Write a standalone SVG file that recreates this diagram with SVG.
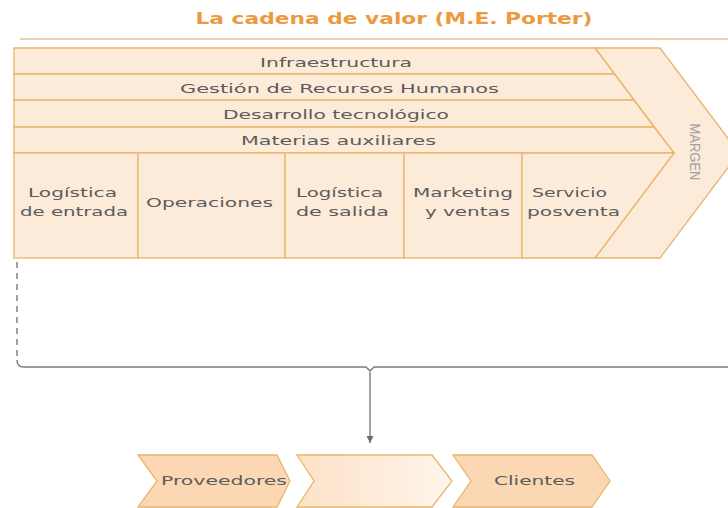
<svg xmlns="http://www.w3.org/2000/svg" width="728" height="508" viewBox="0 0 728 508">
<style>
.box{fill:#fdebd9;stroke:#e8b56c;stroke-width:1.3;stroke-linejoin:miter}
.chev{fill:#fbd8b3;stroke:#e8b56c;stroke-width:1.3}
.lbl{font-family:"DejaVu Sans",Verdana,sans-serif;font-size:12px;fill:#5c5c5c}
.title{font-family:"DejaVu Sans",Verdana,sans-serif;font-size:15px;font-weight:bold;fill:#eb9a3e}
.margen{font-family:"Liberation Sans",Arial,sans-serif;font-size:14px;fill:#a0a0a0}
.conn{fill:none;stroke:#7a7a7a;stroke-width:1.4}
</style>
<defs>
<marker id="ah" markerWidth="10" markerHeight="8" refX="7" refY="3.5" orient="auto" markerUnits="userSpaceOnUse">
<path d="M0,0 L7,3.5 L0,7 Z" fill="#6e6e6e"/>
</marker>
<linearGradient id="mid" x1="0" y1="0" x2="1" y2="0">
<stop offset="0" stop-color="#fde2c8"/>
<stop offset="1" stop-color="#fff4eb"/>
</linearGradient>
</defs>
<rect width="728" height="508" fill="#ffffff"/>
<g id="title">
<text class="title" x="394" y="24" text-anchor="middle" textLength="397" lengthAdjust="spacingAndGlyphs">La cadena de valor (M.E. Porter)</text>
<line x1="20" y1="39" x2="728" y2="39" stroke="#e9c28f" stroke-width="1.5"/>
</g>
<g id="margen">
<polygon class="box" points="595,48 660,48 739,153 660,258 595,258 674,153"/>
<text class="margen" transform="translate(690,152) rotate(90)" text-anchor="middle" textLength="57" lengthAdjust="spacingAndGlyphs">MARGEN</text>
</g>
<g id="infraestructura">
<polygon class="box" points="14,48 595,48 614.6,74 14,74"/>
<text class="lbl" x="260" y="67" textLength="152" lengthAdjust="spacingAndGlyphs">Infraestructura</text>
</g>
<g id="rrhh">
<polygon class="box" points="14,74 614.6,74 634,100 14,100"/>
<text class="lbl" x="180" y="93" textLength="319" lengthAdjust="spacingAndGlyphs">Gestión de Recursos Humanos</text>
</g>
<g id="desarrollo">
<polygon class="box" points="14,100 634,100 654,127 14,127"/>
<text class="lbl" x="223" y="119" textLength="226" lengthAdjust="spacingAndGlyphs">Desarrollo tecnológico</text>
</g>
<g id="materias">
<polygon class="box" points="14,127 654,127 674,153 14,153"/>
<text class="lbl" x="241" y="145" textLength="195" lengthAdjust="spacingAndGlyphs">Materias auxiliares</text>
</g>
<g id="log-entrada">
<rect class="box" x="14" y="153" width="124" height="105"/>
<text class="lbl" x="28" y="197" textLength="89" lengthAdjust="spacingAndGlyphs">Logística</text>
<text class="lbl" x="20" y="216" textLength="108" lengthAdjust="spacingAndGlyphs">de entrada</text>
</g>
<g id="operaciones">
<rect class="box" x="138" y="153" width="147" height="105"/>
<text class="lbl" x="146" y="207" textLength="127" lengthAdjust="spacingAndGlyphs">Operaciones</text>
</g>
<g id="log-salida">
<rect class="box" x="285" y="153" width="119" height="105"/>
<text class="lbl" x="296" y="197" textLength="87" lengthAdjust="spacingAndGlyphs">Logística</text>
<text class="lbl" x="296" y="216" textLength="93" lengthAdjust="spacingAndGlyphs">de salida</text>
</g>
<g id="marketing">
<rect class="box" x="404" y="153" width="118" height="105"/>
<text class="lbl" x="413" y="197" textLength="100" lengthAdjust="spacingAndGlyphs">Marketing</text>
<text class="lbl" x="425" y="216" textLength="85" lengthAdjust="spacingAndGlyphs">y ventas</text>
</g>
<g id="servicio">
<polygon class="box" points="522,153 674,153 595,258 522,258"/>
<text class="lbl" x="532" y="197" textLength="75" lengthAdjust="spacingAndGlyphs">Servicio</text>
<text class="lbl" x="527" y="216" textLength="93" lengthAdjust="spacingAndGlyphs">posventa</text>
</g>
<g id="connectors">
<path class="conn" d="M17,262 L17,360" stroke-dasharray="6,5"/>
<path class="conn" d="M17,360 Q17,367 24,367 L366,367 L370,371 L374,367 L728,367"/>
<path class="conn" d="M370,372 L370,443" marker-end="url(#ah)"/>
</g>
<g id="proveedores">
<polygon class="chev" points="138,455 277,455 290,481 277,507 138,507 157,481"/>
<text class="lbl" x="161" y="485" textLength="126" lengthAdjust="spacingAndGlyphs">Proveedores</text>
</g>
<g id="empresa">
<polygon points="297,455 432,455 452,481 432,507 297,507 314,481" fill="url(#mid)" stroke="#e8b56c" stroke-width="1.3"/>
</g>
<g id="clientes">
<polygon class="chev" points="453,455 592,455 610,481 592,507 453,507 471,481"/>
<text class="lbl" x="494" y="485" textLength="81" lengthAdjust="spacingAndGlyphs">Clientes</text>
</g>
</svg>
